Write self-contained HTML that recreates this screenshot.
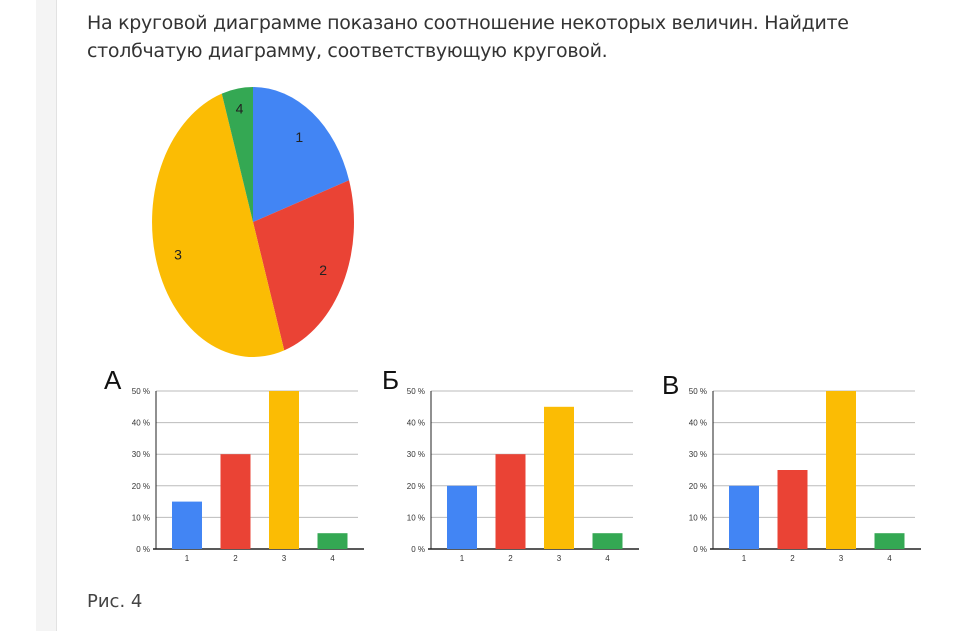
<!DOCTYPE html>
<html><head><meta charset="utf-8"><style>
body{margin:0;width:979px;height:631px;overflow:hidden;background:#fff;font-family:"DejaVu Sans","Liberation Sans",sans-serif;position:relative}
.strip{position:absolute;left:36px;top:0;width:20px;height:631px;background:#f4f4f4;border-right:1px solid #e2e2e2}
.title{position:absolute;left:87px;top:9px;font-size:19px;line-height:28px;color:#333;width:890px;white-space:nowrap;letter-spacing:-0.3px}
.fig{position:absolute;left:87px;top:591px;font-size:18px;color:#444}
svg{position:absolute;left:0;top:0}
</style></head><body>
<div class="strip"></div>
<div class="title">На круговой диаграмме показано соотношение некоторых величин. Найдите<br>столбчатую диаграмму, соответствующую круговой.</div>
<div class="fig">Рис. 4</div>
<svg id="s" width="979" height="631"></svg>
<script>
const pieLabels=["1","2","3","4"];
const pieValues=[20,25,50,5];
const colors=["#4285f4","#ea4335","#fbbc04","#34a853"];
const barCats=["1","2","3","4"];
const ticks=[0,10,20,30,40,50];
const tickLabels=["0 %","10 %","20 %","30 %","40 %","50 %"];
const valuesA=[15,30,50,5];
const valuesB=[20,30,45,5];
const valuesV=[20,25,50,5];
const NS="http://www.w3.org/2000/svg";
const svg=document.getElementById('s');
function mk(t,a){const e=document.createElementNS(NS,t);for(const k in a)e.setAttribute(k,a[k]);svg.appendChild(e);return e;}
const cx=253,cy=222,rx=101,ry=135;
const tot=pieValues.reduce((a,b)=>a+b,0);
let ang=0;
pieValues.forEach((v,i)=>{
 const a0=ang,a1=ang+v/tot*2*Math.PI;ang=a1;
 const p=a=>[cx+rx*Math.sin(a),cy-ry*Math.cos(a)];
 const [x0,y0]=p(a0),[x1,y1]=p(a1);
 const el=mk('path',{d:`M${cx},${cy}L${x0},${y0}A${rx},${ry} 0 ${a1-a0>Math.PI?1:0} 1 ${x1},${y1}Z`,fill:colors[i]});
 
 
 const am=(a0+a1)/2,f=v<10?0.85:0.78;
 const t=mk('text',{x:cx+rx*f*Math.sin(am),y:cy-ry*f*Math.cos(am)+5,'font-size':14,'text-anchor':'middle',fill:'#222','font-family':'Liberation Sans'});
 t.textContent=pieLabels[i];
 
 
});
function bar(x0,x1,letter,lx,ly,vals,id){
 const yb=549,yt=391,y=v=>yb-(v/50)*(yb-yt);
 const L=mk('text',{x:lx,y:ly,'font-size':26,fill:'#111','font-family':'Liberation Sans'});L.textContent=letter;
 
 
 ticks.forEach((t,i)=>{
  if(t>0){const g=mk('line',{x1:x0,x2:x1,y1:y(t),y2:y(t),stroke:'#bbb','stroke-width':1});
  
  }
  const tl=mk('text',{x:x0-6,y:y(t)+3,'font-size':8,'text-anchor':'end',fill:'#333','font-family':'Liberation Sans'});tl.textContent=tickLabels[i];
  
  
 });
 mk('line',{x1:x0,x2:x0,y1:yt,y2:yb,stroke:'#222','stroke-width':1});
 mk('line',{x1:x0-3,x2:x1+6,y1:yb,y2:yb,stroke:'#222','stroke-width':1.5});
 const bw=48.5;
 vals.forEach((v,i)=>{
  const cxb=x0+31+bw*i;
  const r=mk('rect',{x:cxb-15,y:y(v),width:30,height:yb-y(v),fill:colors[i]});
  
  
  const xl=mk('text',{x:cxb,y:yb+12,'font-size':8,'text-anchor':'middle',fill:'#333','font-family':'Liberation Sans'});xl.textContent=barCats[i];
  
  
 });
}
bar(156,358,"А",104,389,valuesA,'a');
bar(431,633,"Б",382,389,valuesB,'b');
bar(713,915,"В",662,394,valuesV,'v');
</script>
</body></html>
